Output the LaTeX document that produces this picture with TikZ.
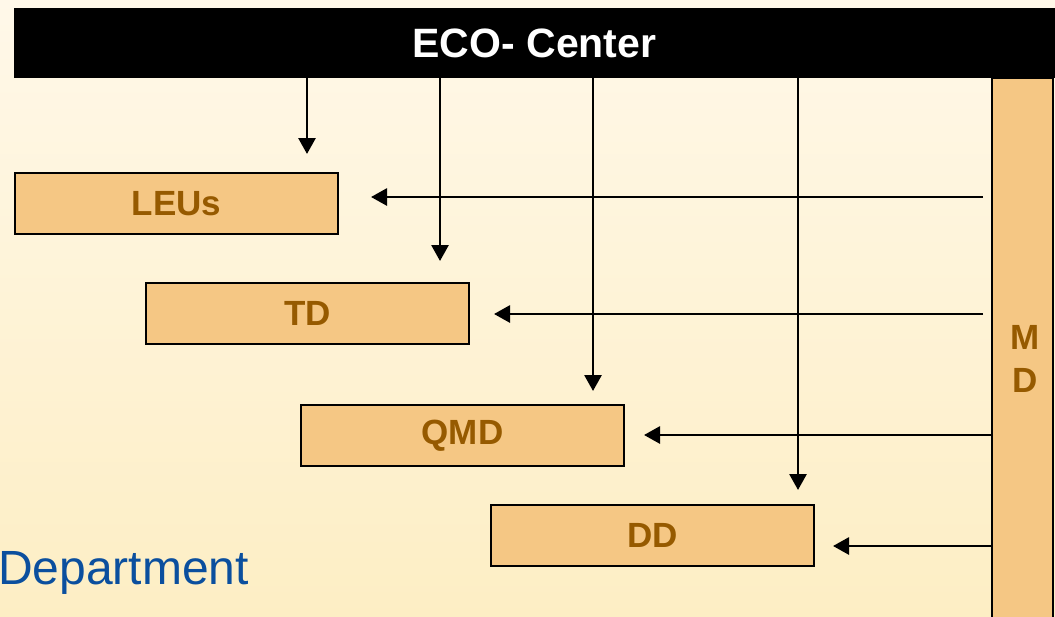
\documentclass[tikz,border=0pt]{standalone}
\usepackage{fontspec}
\setmainfont{Liberation Sans}
\usetikzlibrary{arrows.meta}
\definecolor{boxfill}{HTML}{F5C784}
\definecolor{boxtext}{HTML}{965A00}
\definecolor{bgtop}{HTML}{FFF8E9}
\definecolor{bgbottom}{HTML}{FDEEC4}
\definecolor{deptblue}{HTML}{0B4F9E}
\tikzset{
  unitbox/.style={draw=black, line width=2pt, fill=boxfill, text=boxtext,
    font=\fontsize{35}{35}\selectfont\bfseries,
    minimum width=323pt, minimum height=61pt, inner sep=0pt},
  headbar/.style={fill=black, text=white, font=\fontsize{41}{41}\selectfont\bfseries,
    minimum width=1041pt, minimum height=70pt, inner sep=0pt},
  sidebar/.style={draw=black, line width=1.5pt, fill=boxfill, text=boxtext,
    font=\fontsize{35}{43}\selectfont\bfseries, align=center,
    minimum width=61pt, minimum height=540pt, inner sep=0pt},
  flow/.style={line width=2.8pt, -{Triangle[length=16pt,width=17pt]}}
}
\begin{document}
\begin{tikzpicture}[x=1pt, y=-1pt]
  % page and background shading
  \useasboundingbox (0,0) rectangle (1055,616);
  \fill[top color=bgtop, bottom color=bgbottom] (0,0) rectangle (1055,616);

  % header and side column
  \node[headbar] (eco) at (534.5,43) {ECO- Center};
  \node[sidebar] (md) at (1022.5,348) {};
  \node[text=boxtext, font=\fontsize{35}{43}\selectfont\bfseries, align=center,
        inner sep=0pt] (mdlabel) at (1025,359) {M\\D};

  % unit boxes
  \node[unitbox] (leu) at (176.5,203.5) {LEUs};
  \node[unitbox] (td)  at (307.5,313.5) {TD};
  \node[unitbox] (qmd) at (462.5,435.5) {QMD};
  \node[unitbox] (dd)  at (652.5,535.5) {DD};

  % starting points on the header
  \coordinate (e1) at (307,78);
  \coordinate (e2) at (440,78);
  \coordinate (e3) at (593,78);
  \coordinate (e4) at (798,78);

  % starting points beside the side column
  \coordinate (m1) at (983,197);
  \coordinate (m2) at (983,314);
  \coordinate (m3) at (992,435);
  \coordinate (m4) at (992,546);

  % downward flows from the header
  \draw[flow, shorten >=18pt] (e1) -- (e1 |- leu.north);
  \draw[flow, shorten >=21pt] (e2) -- (e2 |- td.north);
  \draw[flow, shorten >=13pt] (e3) -- (e3 |- qmd.north);
  \draw[flow, shorten >=14pt] (e4) -- (e4 |- dd.north);

  % leftward flows from the side column
  \draw[flow, shorten >=32pt] (m1) -- (m1 -| leu.east);
  \draw[flow, shorten >=24pt] (m2) -- (m2 -| td.east);
  \draw[flow, shorten >=19pt] (m3) -- (m3 -| qmd.east);
  \draw[flow, shorten >=18pt] (m4) -- (m4 -| dd.east);

  % caption
  \node[anchor=base west, inner sep=0pt, text=deptblue,
        font=\fontsize{48}{48}\selectfont] (dept) at (-2,584) {Department};
\end{tikzpicture}
\end{document}
